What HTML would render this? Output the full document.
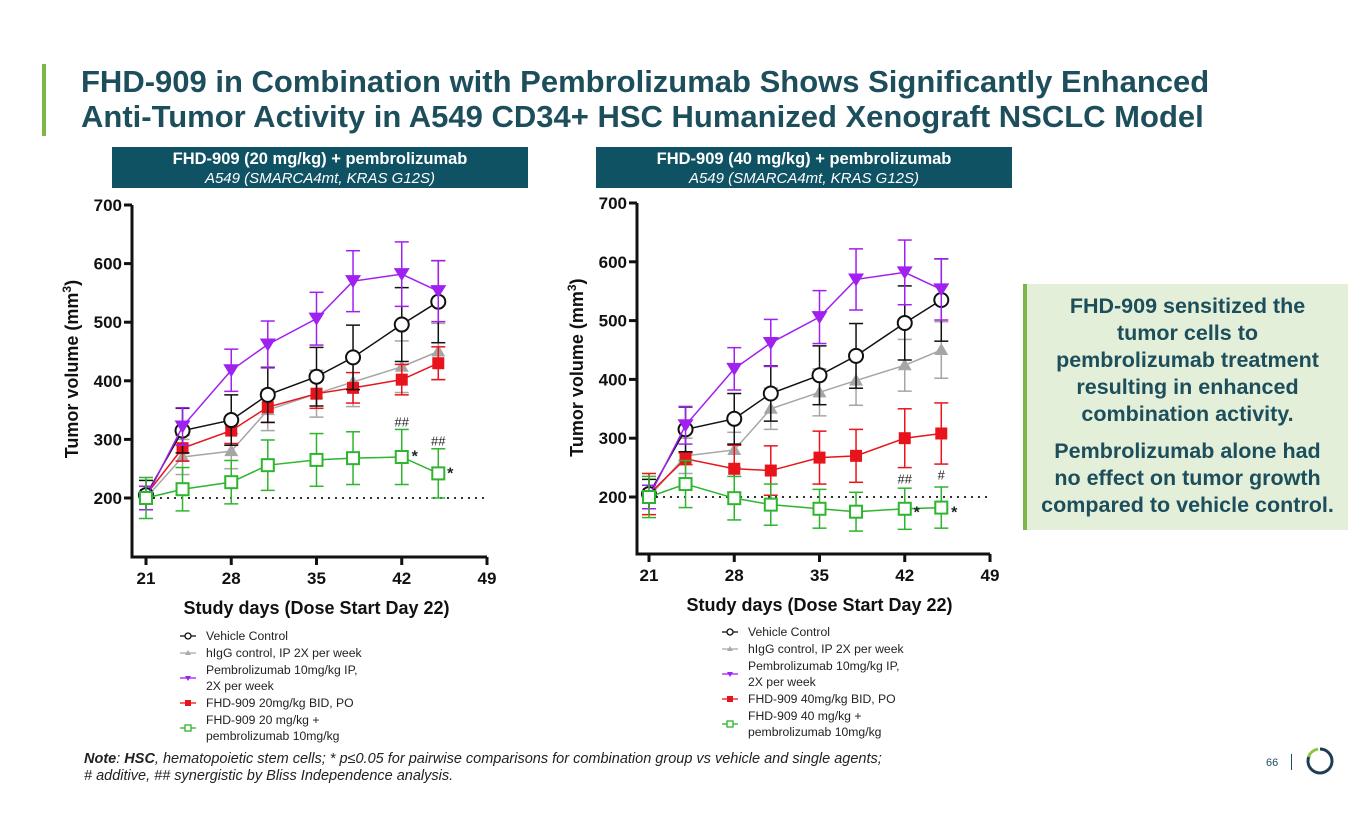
<!DOCTYPE html>
<html><head><meta charset="utf-8">
<style>
body{margin:0;width:1365px;height:829px;background:#fff;font-family:"Liberation Sans",sans-serif;position:relative;overflow:hidden}
.abs{position:absolute}
.title{left:81px;top:64px;font-size:31px;font-weight:bold;color:#1d4e5c;line-height:35px;white-space:nowrap}
.hdr{background:#0e5264;color:#fff;text-align:center;font-size:16.5px;font-weight:bold;line-height:19px;padding-top:3px;box-sizing:border-box;height:41px;white-space:nowrap}
.hdr i{font-weight:normal;font-size:15px}
.side{left:1023px;top:284px;width:325px;height:246px;background:#e3efd9;border-left:4px solid #7ab648;box-sizing:border-box;color:#1d4e5c;font-weight:bold;font-size:21.5px;text-align:center;line-height:27px;padding-top:9px;white-space:nowrap}
.note{left:84px;top:751px;font-size:14.5px;font-style:italic;color:#222;line-height:17px;white-space:nowrap}
</style></head><body>
<div class="abs" style="left:42px;top:64px;width:4px;height:72px;background:#7ab648"></div>
<div class="abs title">FHD-909 in Combination with Pembrolizumab Shows Significantly Enhanced<br>Anti-Tumor Activity in A549 CD34+ HSC Humanized Xenograft NSCLC Model</div>
<div class="abs hdr" style="left:112px;top:147px;width:416px">FHD-909 (20 mg/kg) + pembrolizumab<br><i>A549 (SMARCA4mt, KRAS G12S)</i></div>
<div class="abs hdr" style="left:596px;top:147px;width:416px">FHD-909 (40 mg/kg) + pembrolizumab<br><i>A549 (SMARCA4mt, KRAS G12S)</i></div>
<div class="abs side">FHD-909 sensitized the<br>tumor cells to<br>pembrolizumab treatment<br>resulting in enhanced<br>combination activity.<div style="height:10px"></div>Pembrolizumab alone had<br>no effect on tumor growth<br>compared to vehicle control.</div>
<div class="abs note"><b>Note</b>: <b>HSC</b>, hematopoietic stem cells; * p≤0.05 for pairwise comparisons for combination group vs vehicle and single agents;<br># additive, ## synergistic by Bliss Independence analysis.</div>
<div class="abs" style="left:1266px;top:757px;font-size:11px;color:#1d4e5c">66</div>
<div class="abs" style="left:1291px;top:754px;width:1px;height:16px;background:#1d4e5c"></div>
<svg class="abs" style="left:1304px;top:745px" width="32" height="32"><circle cx="16" cy="16" r="12" fill="none" stroke="#1d3d56" stroke-width="3" stroke-dasharray="62 100" transform="rotate(-90 16 16)"/><path d="M4.5 12 A12 12 0 0 1 14 4.2" fill="none" stroke="#8cc63f" stroke-width="3"/></svg>
<svg id="chart" class="abs" style="left:0;top:0" width="1365" height="829"></svg>
<script>
const days=[21,24,28,31,35,38,42,45];
const vehicle=[205,315,333,376,407,440,496,535];
const vehicleErr=[25,38,43,47,50,55,63,70];
const higg=[200,270,280,350,378,398,424,450];
const higgErr=[20,30,30,35,40,42,44,48];
const pembro=[200,322,418,462,506,570,582,553];
const pembroErr=[20,32,36,40,45,52,55,52];
const fhd20=[205,285,315,355,378,388,402,430];
const fhd20Err=[15,22,22,26,25,26,26,28];
const combo20=[200,215,227,256,265,268,270,242];
const combo20Err=[35,37,37,43,45,45,47,42];
const fhd40=[205,265,248,245,267,270,300,308];
const fhd40Err=[35,10,40,42,45,45,50,52];
const combo40=[200,222,198,187,180,175,180,182];
const combo40Err=[35,40,37,35,33,33,35,35];
const yTicks=[200,300,400,500,600,700];
const xTicks=[21,28,35,42,49];
const NS='http://www.w3.org/2000/svg';
const svg=document.getElementById('chart');
function mk(tag,attrs,parent){const e=document.createElementNS(NS,tag);for(const k in attrs)e.setAttribute(k,attrs[k]);(parent||svg).appendChild(e);return e;}
function drawChart(cfg){
  const g=mk('g',{});
  
  
  const X=d=>cfg.x0+(d-21)*(cfg.x1-cfg.x0)/28;
  const Y=v=>cfg.y200+(v-200)*(cfg.y700-cfg.y200)/500;
  const ax=mk('path',{d:`M${cfg.ax} ${Y(700)} V${cfg.bot} H${X(49)}`,fill:'none',stroke:'#111','stroke-width':3},g);
  
  
  yTicks.forEach(t=>{
    mk('line',{x1:cfg.ax-8,x2:cfg.ax,y1:Y(t),y2:Y(t),stroke:'#111','stroke-width':3},g);
    const tx=mk('text',{x:cfg.ax-10,y:Y(t)+6,'text-anchor':'end','font-size':17,'font-weight':'bold',fill:'#111'},g);tx.textContent=t;
    
    
  });
  xTicks.forEach(t=>{
    mk('line',{x1:X(t),x2:X(t),y1:cfg.bot,y2:cfg.bot+8,stroke:'#111','stroke-width':3},g);
    const tx=mk('text',{x:X(t),y:cfg.bot+27,'text-anchor':'middle','font-size':17,'font-weight':'bold',fill:'#111'},g);tx.textContent=t;
    
    
  });
  const xt=mk('text',{x:(X(21)+X(49))/2,y:cfg.bot+57,'text-anchor':'middle','font-size':18,'font-weight':'bold',fill:'#111'},g);
  xt.textContent='Study days (Dose Start Day 22)';
  
  
  const yc=Y(420);
  const yt=mk('text',{x:cfg.ax-54,y:yc,'text-anchor':'middle','font-size':18,'font-weight':'bold',fill:'#111',transform:`rotate(-90 ${cfg.ax-54} ${yc})`},g);
  yt.innerHTML='Tumor volume (mm<tspan dy="-7" font-size="12">3</tspan><tspan dy="7">)</tspan>';
  
  
  const dl=mk('line',{x1:X(21),x2:X(49),y1:Y(200),y2:Y(200),stroke:'#333','stroke-width':2,'stroke-dasharray':'2 5'},g);
  
  
  cfg.series.forEach(s=>{
    const sg=mk('g',{},g);
    
    
    s.vals.forEach((v,i)=>{
      const x=X(days[i]);
      mk('line',{x1:x,x2:x,y1:Y(v-s.err[i]),y2:Y(v+s.err[i]),stroke:s.color,'stroke-width':1.5},sg);
      [v-s.err[i],v+s.err[i]].forEach(e=>mk('line',{x1:x-7,x2:x+7,y1:Y(e),y2:Y(e),stroke:s.color,'stroke-width':1.5},sg));
    });
    mk('polyline',{points:s.vals.map((v,i)=>X(days[i])+','+Y(v)).join(' '),fill:'none',stroke:s.color,'stroke-width':1.5},sg);
    s.vals.forEach((v,i)=>{
      const x=X(days[i]),y=Y(v);let m;
      if(s.mk==='circ')m=mk('circle',{cx:x,cy:y,r:7,fill:'#fff',stroke:s.color,'stroke-width':2},sg);
      else if(s.mk==='tri')m=mk('polygon',{points:`${x},${y-7} ${x-7},${y+5} ${x+7},${y+5}`,fill:s.color},sg);
      else if(s.mk==='dtri')m=mk('polygon',{points:`${x-8},${y-6} ${x+8},${y-6} ${x},${y+7}`,fill:s.color},sg);
      else if(s.mk==='sq')m=mk('rect',{x:x-6,y:y-6,width:12,height:12,fill:s.color},sg);
      else m=mk('rect',{x:x-6,y:y-6,width:12,height:12,fill:'#fff',stroke:s.color,'stroke-width':2},sg);
      
      
    });
  });
  cfg.annot.forEach(a=>{
    const t=mk('text',{x:X(a[0])+(a[3]||0),y:Y(a[1]),'text-anchor':'middle','font-size':a[4]||13,fill:'#222','font-weight':a[4]?'bold':'normal'},g);t.textContent=a[2];
    
    
  });
  const lg=mk('g',{},g);
  
  
  const rows=[[0,'circ','#111',['Vehicle Control']],[17,'tri','#aaa',['hIgG control, IP 2X per week']],[42,'dtri','#a020f0',['Pembrolizumab 10mg/kg IP,','2X per week']],[67,'sq','#e8141b',[cfg.fhdLabel]],[92,'osq','#2db52d',cfg.comboLabel]];
  rows.forEach(r=>{
    const lx=cfg.lx,ly=cfg.ly+r[0];
    const my=ly-4;
    mk('line',{x1:lx,x2:lx+16,y1:my,y2:my,stroke:r[2],'stroke-width':1.3},lg);
    const c=lx+8;
    if(r[1]==='circ')mk('circle',{cx:c,cy:my,r:3,fill:'#fff',stroke:r[2],'stroke-width':1.3},lg);
    else if(r[1]==='tri')mk('polygon',{points:`${c},${my-3} ${c-3},${my+2} ${c+3},${my+2}`,fill:r[2]},lg);
    else if(r[1]==='dtri')mk('polygon',{points:`${c-3},${my-2} ${c+3},${my-2} ${c},${my+3}`,fill:r[2]},lg);
    else if(r[1]==='sq')mk('rect',{x:c-3,y:my-3,width:6,height:6,fill:r[2]},lg);
    else mk('rect',{x:c-3,y:my-3,width:6,height:6,fill:'#fff',stroke:r[2],'stroke-width':1.3},lg);
    r[3].forEach((txt,k)=>{
      const ty=r[3].length>1?ly-8+k*16:ly;
      const t=mk('text',{x:lx+26,y:ty,'font-size':12.2,fill:'#222'},lg);t.textContent=txt;
      
      
    });
  });
}
drawChart({name:'left-chart',ax:132,x0:146,x1:487,y200:498,y700:205,bot:557,lx:180,ly:640,
  fhdLabel:'FHD-909 20mg/kg BID, PO',comboLabel:['FHD-909 20 mg/kg +','pembrolizumab 10mg/kg'],
  series:[{name:'series-higg',vals:higg,err:higgErr,color:'#a6a6a6',mk:'tri'},{name:'series-fhd909-20',vals:fhd20,err:fhd20Err,color:'#e8141b',mk:'sq'},{name:'series-vehicle',vals:vehicle,err:vehicleErr,color:'#111',mk:'circ'},{name:'series-pembrolizumab',vals:pembro,err:pembroErr,color:'#a020f0',mk:'dtri'},{name:'series-combo-20',vals:combo20,err:combo20Err,color:'#2db52d',mk:'osq'}],
  annot:[[42,322,'##'],[45,290,'##'],[42,262,'*',13,16],[45,233,'*',12,16]]});
drawChart({name:'right-chart',ax:637,x0:649,x1:990,y200:497,y700:203,bot:554,lx:722,ly:636,
  fhdLabel:'FHD-909 40mg/kg BID, PO',comboLabel:['FHD-909 40 mg/kg +','pembrolizumab 10mg/kg'],
  series:[{name:'series-higg',vals:higg,err:higgErr,color:'#a6a6a6',mk:'tri'},{name:'series-fhd909-40',vals:fhd40,err:fhd40Err,color:'#e8141b',mk:'sq'},{name:'series-vehicle',vals:vehicle,err:vehicleErr,color:'#111',mk:'circ'},{name:'series-pembrolizumab',vals:pembro,err:pembroErr,color:'#a020f0',mk:'dtri'},{name:'series-combo-40',vals:combo40,err:combo40Err,color:'#2db52d',mk:'osq'}],
  annot:[[42,223,'##'],[45,230,'#'],[42,165,'*',12,16],[45,165,'*',13,16]]});
</script>
</body></html>
